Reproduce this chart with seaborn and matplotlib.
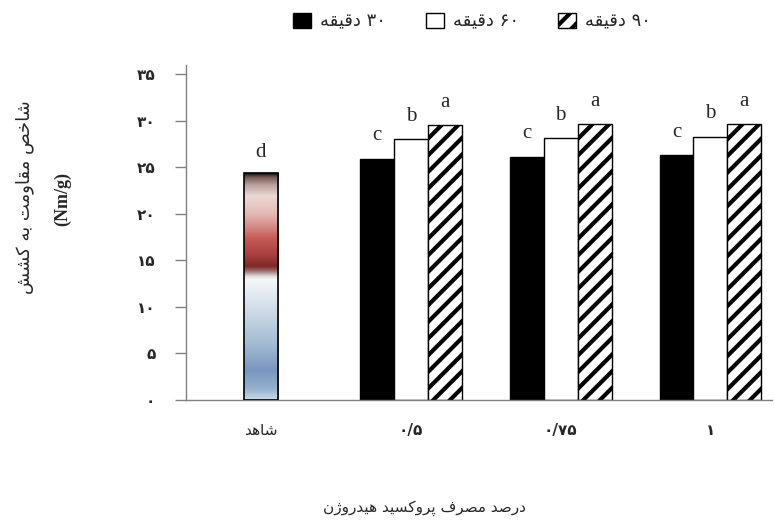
import numpy as np
import pandas as pd
import matplotlib
matplotlib.use('Agg')
import matplotlib.pyplot as plt
from matplotlib.colors import LinearSegmentedColormap
from matplotlib.patches import Patch
import seaborn as sns

# data
categories = ['شاهد', '۰/۵', '۰/۷۵', '۱']
series = ['۳۰ دقیقه', '۶۰ دقیقه', '۹۰ دقیقه']
control_value = 24.4
control_letter = 'd'
t30 = [25.9, 26.1, 26.3]
t60 = [28.0, 28.1, 28.3]
t90 = [29.5, 29.6, 29.6]
series_letters = ['c', 'b', 'a']
y_ticks = [0, 5, 10, 15, 20, 25, 30, 35]
y_tick_labels = ['۰', '۵', '۱۰', '۱۵', '۲۰', '۲۵', '۳۰', '۳۵']
y_title = 'شاخص مقاومت به کشش'
y_unit = '(Nm/g)'
x_title = 'درصد مصرف پروکسید هیدروژن'

# matplotlib 3.10 does no arabic shaping, so pick the joined forms by hand
# (isolated, final, initial, medial)
FORMS = {
    'ا': ('\uFE8D', '\uFE8E', None, None),
    'ب': ('\uFE8F', '\uFE90', '\uFE91', '\uFE92'),
    'ت': ('\uFE95', '\uFE96', '\uFE97', '\uFE98'),
    'خ': ('\uFEA5', '\uFEA6', '\uFEA7', '\uFEA8'),
    'د': ('\uFEA9', '\uFEAA', None, None),
    'ر': ('\uFEAD', '\uFEAE', None, None),
    'ژ': ('\uFB8A', '\uFB8B', None, None),
    'س': ('\uFEB1', '\uFEB2', '\uFEB3', '\uFEB4'),
    'ش': ('\uFEB5', '\uFEB6', '\uFEB7', '\uFEB8'),
    'ص': ('\uFEB9', '\uFEBA', '\uFEBB', '\uFEBC'),
    'ف': ('\uFED1', '\uFED2', '\uFED3', '\uFED4'),
    'ق': ('\uFED5', '\uFED6', '\uFED7', '\uFED8'),
    'ک': ('\uFB8E', '\uFB8F', '\uFB90', '\uFB91'),
    'م': ('\uFEE1', '\uFEE2', '\uFEE3', '\uFEE4'),
    'ن': ('\uFEE5', '\uFEE6', '\uFEE7', '\uFEE8'),
    'ه': ('\uFEE9', '\uFEEA', '\uFEEB', '\uFEEC'),
    'و': ('\uFEED', '\uFEEE', None, None),
    'ی': ('\uFBFC', '\uFBFD', '\uFBFE', '\uFBFF'),
    'پ': ('\uFB56', '\uFB57', '\uFB58', '\uFB59'),
}


def shape_word(w):
    out = []
    for i, ch in enumerate(w):
        if ch not in FORMS:
            out.append(ch)
            continue
        prev = w[i - 1] if i > 0 else None
        nxt = w[i + 1] if i + 1 < len(w) else None
        join_prev = prev in FORMS and FORMS[prev][2] is not None
        join_next = nxt in FORMS and FORMS[ch][2] is not None
        iso, fin, ini, med = FORMS[ch]
        if join_prev and join_next:
            out.append(med)
        elif join_prev:
            out.append(fin)
        elif join_next:
            out.append(ini)
        else:
            out.append(iso)
    return ''.join(reversed(out))


def rtl(text):
    words = []
    for w in text.split(' '):
        if any(c in FORMS for c in w):
            words.append(shape_word(w))
        else:
            words.append(w)
    return ' '.join(reversed(words))


sns.set_style('white')
plt.rcParams['font.family'] = ['DejaVu Sans']
plt.rcParams['hatch.linewidth'] = 3.0

fig = plt.figure(figsize=(7.74, 5.21), dpi=100)
ax = fig.add_axes([0.2403, 0.2332, 0.757, 0.642])

df = pd.DataFrame({
    'cat': np.repeat(categories[1:], 3),
    'time': series * 3,
    'value': np.array([t30, t60, t90]).T.ravel(),
})
ctrl = pd.DataFrame({'cat': [categories[0]], 'value': [control_value]})

sns.barplot(data=df, x='cat', y='value', hue='time', order=categories,
            hue_order=series, width=0.68, gap=0, palette=['black', 'white', 'white'],
            edgecolor='black', linewidth=1, legend=False, ax=ax, errorbar=None)
n = len(categories) - 1
for i, bar in enumerate(ax.patches[:3 * n]):
    if i // n == 2:
        bar.set_hatch('//')

sns.barplot(data=ctrl, x='cat', y='value', order=categories, width=0.227,
            color='white', edgecolor='black', linewidth=1.2, ax=ax, errorbar=None)
ctrl_bar = ax.patches[-1]

# gradient fill of the control bar
stops = [
    (0.00, '#1a1010'), (0.015, '#6e5550'), (0.05, '#b8a09c'), (0.10, '#ecd8d4'),
    (0.18, '#e4b8b4'), (0.29, '#c55a55'), (0.36, '#a84040'), (0.41, '#7e2826'),
    (0.43, '#9a6a68'), (0.455, '#e0dcdc'), (0.47, '#f6f8fa'), (0.60, '#d0dce8'),
    (0.75, '#a4bcd4'), (0.87, '#7a96c0'), (0.95, '#94b0cc'), (1.00, '#cadaea'),
]
cmap = LinearSegmentedColormap.from_list('ctrl', stops)
bx, bw, bh = ctrl_bar.get_x(), ctrl_bar.get_width(), ctrl_bar.get_height()
grad = np.linspace(0, 1, 256).reshape(-1, 1)
im = ax.imshow(grad, cmap=cmap, aspect='auto', extent=[bx, bx + bw, 0, bh],
               origin='upper', zorder=ctrl_bar.get_zorder() - 0.1)
im.set_clip_path(ctrl_bar)
ctrl_bar.set_facecolor('none')
ctrl_bar.set_zorder(3)

# significance letters
letter_kw = dict(ha='center', va='baseline', fontsize=15, family='Liberation Serif')
ax.text(bx + bw / 2, control_value + 1.7, control_letter, **letter_kw)
for k, vals in enumerate([t30, t60, t90]):
    for j, bar in enumerate(ax.patches[k * n:(k + 1) * n]):
        ax.text(bar.get_x() + bar.get_width() / 2, vals[j] + 2.0,
                series_letters[k], **letter_kw)

ax.set_xlim(-0.5, 3.41)
ax.set_ylim(0, 36)
ax.set_yticks(y_ticks)
ax.set_yticklabels(y_tick_labels, fontsize=11, fontweight='bold')
ax.set_xticks(range(len(categories)))
ax.set_xticklabels([rtl(c) for c in categories], fontsize=11)
for lab in ax.get_xticklabels()[1:]:
    lab.set_fontweight('bold')
ax.set_xlabel('')
ax.set_ylabel('')
ax.tick_params(axis='y', length=8, width=1, color='#808080', pad=14, left=True)
ax.tick_params(axis='x', length=0, pad=17)
for s in ['top', 'right']:
    ax.spines[s].set_visible(False)
for s in ['left', 'bottom']:
    ax.spines[s].set_color('#808080')
    ax.spines[s].set_linewidth(1)

fig.text(0.549, 0.025, rtl(x_title), ha='center', va='center', fontsize=11)
fig.text(0.032, 0.622, rtl(y_title), ha='center', va='center', rotation=90, fontsize=13)
fig.text(0.081, 0.618, y_unit, ha='center', va='center', rotation=90, fontsize=13,
         family='Liberation Serif', fontweight='bold')

handles = [Patch(facecolor='black', edgecolor='black'),
           Patch(facecolor='white', edgecolor='black'),
           Patch(facecolor='white', edgecolor='black', hatch='//')]
fig.legend(handles, [rtl(s) for s in series], loc='center', bbox_to_anchor=(0.61, 0.958),
           ncol=3, frameon=False, fontsize=13, handlelength=1.0, handleheight=0.9,
           columnspacing=2.2, handletextpad=0.5)

fig.savefig('out.png', dpi=100)
